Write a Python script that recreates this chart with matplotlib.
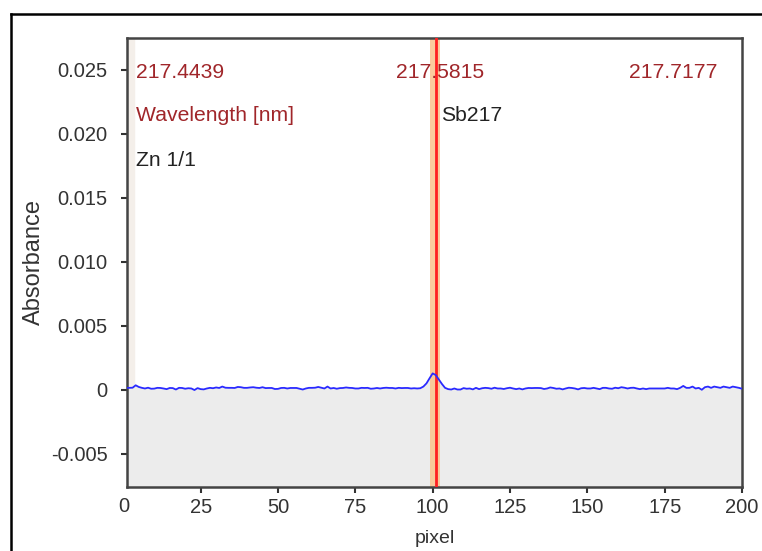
import matplotlib
matplotlib.use("Agg")
import matplotlib.pyplot as plt
from matplotlib.lines import Line2D
import numpy as np

plt.rcParams['font.family'] = ['Liberation Sans', 'DejaVu Sans']

# absorbance per pixel, in units of 1e-4
pixel = np.arange(1, 201)
absorb_e4 = [
    1.5, 1.5, 1.6, 3.5, 2.2, 1.5, 1.0, 1.6, 0.8, 0.9,
    1.5, 1.4, 1.0, 0.5, 1.4, 1.3, 0.2, 1.5, 1.4, 0.8,
    1.2, 1.0, -0.2, 1.3, 0.5, 0.3, 1.0, 1.5, 1.2, 1.8,
    1.4, 2.5, 1.6, 1.5, 1.5, 1.4, 2.2, 2.0, 1.5, 1.5,
    1.8, 2.0, 1.6, 1.4, 2.0, 1.3, 1.4, 1.4, 0.6, 0.7,
    1.4, 1.5, 1.0, 1.4, 1.4, 1.4, 0.8, 0.2, 1.0, 1.5,
    1.5, 1.6, 2.2, 1.6, 1.0, 2.5, 1.0, 1.4, 0.8, 1.3,
    1.4, 1.8, 1.5, 1.4, 1.0, 1.0, 1.5, 1.4, 1.5, 0.8,
    1.0, 1.4, 1.0, 1.4, 1.6, 1.4, 1.4, 1.0, 1.5, 1.3,
    1.4, 1.4, 1.0, 1.2, 1.0, 1.2, 2.5, 5.0, 9.0, 12.8,
    11.5, 8.0, 4.5, 1.5, 0.5, 0.2, 1.0, 0.2, 0.2, 1.3,
    0.8, 1.0, 0.3, 1.5, 0.5, 1.2, 1.5, 1.3, 0.8, 1.6,
    1.0, 1.0, 0.6, 1.2, 1.6, 1.0, 0.5, 1.0, 0.3, 1.0,
    1.4, 1.3, 1.4, 1.4, 1.3, 0.6, 1.0, 1.8, 1.4, 0.8,
    1.0, 0.3, 1.0, 1.6, 1.4, 1.0, 0.3, 1.2, 1.4, 1.0,
    1.0, 1.5, 1.0, 0.5, 1.5, 1.5, 1.0, 0.8, 1.6, 1.2,
    2.0, 1.6, 1.0, 1.5, 1.6, 1.0, 0.5, 1.0, 0.5, 1.0,
    1.0, 1.0, 1.0, 1.0, 1.0, 1.5, 1.0, 1.0, 0.5, 1.5,
    3.0, 1.5, 1.5, 2.5, 1.0, 1.5, 0.0, 2.0, 2.5, 1.5,
    2.5, 2.0, 1.5, 2.5, 2.0, 1.5, 2.5, 2.0, 1.5, 0.8,
]
absorb = np.array(absorb_e4) * 1e-4

x_ticks = [25, 50, 75, 100, 125, 150, 175, 200]
y_ticks = [-0.005, 0, 0.005, 0.010, 0.015, 0.020, 0.025]
y_labels = ['-0.005', '0', '0.005', '0.010', '0.015', '0.020', '0.025']
wl_labels = ['217.4439', '217.5815', '217.7177']
line_pixel = 101
band = (99, 102.5)
left_band = (1, 3.5)
ylo, yhi = -0.0076, 0.0275

fig = plt.figure(figsize=(7.62, 5.51), dpi=100)
ax = fig.add_axes([0.1667, 0.1162, 0.8071, 0.8148])

ax.set_xlim(1.2, 200)
ax.set_ylim(ylo, yhi)

ax.axvspan(*left_band, color='#f4efea', zorder=0)
ax.fill_between(pixel, absorb, ylo, color='#ececec', zorder=1, lw=0)
ax.axvspan(*band, color='#fbc48c', alpha=0.85, zorder=2, lw=0)
ax.axvline(line_pixel, color='#ff2020', lw=2, zorder=3)
ax.plot(pixel, absorb, color='#2a2aff', lw=1.3, zorder=4)

dark = '#a0262a'
fs = 15.2
ax.text(0.015, 0.912, wl_labels[0], transform=ax.transAxes, color=dark, fontsize=fs)
ax.text(0.437, 0.912, wl_labels[1], transform=ax.transAxes, color=dark, fontsize=fs)
ax.text(0.816, 0.912, wl_labels[2], transform=ax.transAxes, color=dark, fontsize=fs)
ax.text(0.015, 0.816, 'Wavelength [nm]', transform=ax.transAxes, color=dark, fontsize=fs)
ax.text(0.510, 0.816, 'Sb217', transform=ax.transAxes, color='#222222', fontsize=fs)
ax.text(0.015, 0.716, 'Zn 1/1', transform=ax.transAxes, color='#222222', fontsize=fs)

ax.set_xticks(x_ticks)
ax.set_yticks(y_ticks)
ax.set_yticklabels(y_labels)
ax.tick_params(direction='out', length=4, width=1.5, colors='#333333',
               labelsize=14.5)
ax.tick_params(axis='x', pad=4)
ax.tick_params(axis='y', pad=10)
# the "0" label sits left of the frame in the original
ax.text(0, -0.022, '0', transform=ax.get_xaxis_transform(), ha='center', va='top',
        fontsize=14.5, color='#333333')

for s in ax.spines.values():
    s.set_color('#444444')
    s.set_linewidth(1.8)

ax.set_xlabel('pixel', fontsize=14, color='#333333', labelpad=9)
ax.set_ylabel('Absorbance', fontsize=17, color='#333333', labelpad=4)

# outer frame
fig.add_artist(Line2D([11 / 762, 1], [1 - 14 / 551, 1 - 14 / 551], color='black', lw=1.8))
fig.add_artist(Line2D([11 / 762, 11 / 762], [0, 1 - 14 / 551], color='black', lw=1.8))

fig.savefig('out.png', dpi=100)
